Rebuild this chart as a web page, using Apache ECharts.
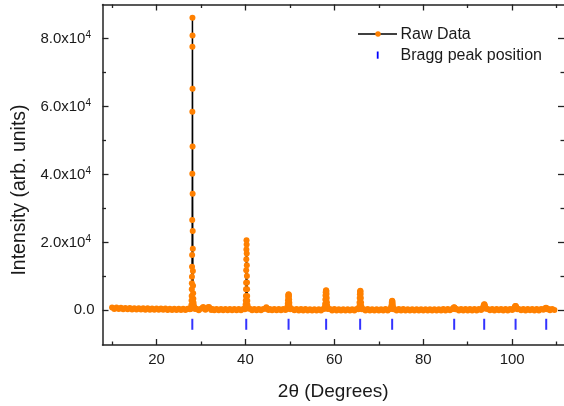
<!DOCTYPE html>
<html><head><meta charset="utf-8">
<script src="https://cdn.jsdelivr.net/npm/echarts@6/dist/echarts.min.js"></script>
<style>html,body{margin:0;padding:0;background:#fff}#c{width:564px;height:406px}</style>
</head><body><div id="c"></div>
<script>
// ---- data (2θ in degrees, intensity in counts) ----
const base1 = [[10.0,850],[10.5,420],[11.0,800],[11.5,380],[12.0,760],[12.5,340],[13.0,720],[13.5,300],[14.0,690],[14.5,270],[15.0,650],[15.5,250],[16.0,620],[16.5,230],[17.0,600],[17.5,200],[18.0,580],[18.5,190],[19.0,560],[19.5,160],[20.0,540],[20.5,150],[21.0,530],[21.5,140],[22.0,510],[22.5,130],[23.0,500],[23.5,120],[24.0,490],[24.5,110],[25.0,480],[25.5,120],[26.0,490],[26.5,130],[27.0,500],[27.5,300]];
const peak28 = [[27.66,420],[27.72,600],[27.78,900],[27.84,1600],[27.88,2900],[27.91,4200],[27.93,6200],[27.95,8000],[27.97,9900],[27.99,12850],[28.01,16270],[28.03,26560],[28.05,40200],[28.06,58440],[28.07,77560],[28.08,86090],[28.09,80880],[28.10,65210],[28.11,48240],[28.12,34320],[28.14,23320],[28.16,18150],[28.18,11560],[28.21,7200],[28.24,5000],[28.28,3400],[28.33,2200],[28.39,1400],[28.46,900],[28.56,600],[28.68,400]];
const base2 = [[29.0,480],[29.5,60],[30.0,450],[30.3,700],[30.5,1000],[30.7,600],[31.0,200],[31.3,550],[31.6,900],[31.8,1000],[32.0,650],[32.3,120],[32.6,420],[33.0,40],[33.5,430],[34.0,30],[34.5,420],[35.0,20],[35.5,410],[36.0,40],[36.5,420],[37.0,30],[37.5,410],[38.0,40],[38.5,430],[39.0,60],[39.5,420]];
const peak40 = [[39.86,350],[39.94,600],[40.00,1000],[40.05,1800],[40.08,2900],[40.11,4200],[40.13,6200],[40.15,8100],[40.17,11800],[40.19,15000],[40.21,17900],[40.24,20600],[40.27,19400],[40.29,16700],[40.31,13300],[40.33,10100],[40.35,8200],[40.37,6200],[40.39,4200],[40.42,2800],[40.46,1600],[40.52,900],[40.60,550]];
const base3 = [[41.0,450],[41.5,40],[42.0,430],[42.5,30],[43.0,420],[43.5,20],[44.0,400],[44.5,500],[44.7,900],[44.9,450],[45.2,80],[45.5,400],[46.0,10],[46.5,390],[47.0,0],[47.5,380],[48.0,-10],[48.5,380],[49.0,100]];
const peak50 = [[49.30,400],[49.42,700],[49.48,1200],[49.53,2000],[49.57,3000],[49.61,3900],[49.65,4500],[49.70,4700],[49.75,4600],[49.79,4100],[49.83,3200],[49.87,2200],[49.91,1300],[49.96,700],[50.08,300]];
const base4 = [[50.5,400],[51.0,0],[51.5,380],[52.0,-20],[52.5,370],[53.0,-30],[53.5,360],[54.0,-40],[54.5,350],[55.0,-40],[55.5,350],[56.0,-50],[56.5,340],[57.0,-30],[57.5,380]];
const peak58 = [[57.78,500],[57.86,1000],[57.92,1900],[57.97,3200],[58.01,4400],[58.05,5300],[58.10,5800],[58.15,5900],[58.20,5600],[58.24,4800],[58.28,3600],[58.32,2400],[58.37,1400],[58.43,800],[58.52,400]];
const base5 = [[59.0,380],[59.5,-30],[60.0,360],[60.5,-40],[61.0,350],[61.5,-50],[62.0,340],[62.5,-40],[63.0,350],[63.5,-50],[64.0,340],[64.5,-30],[65.0,380],[65.4,300]];
const peak66 = [[65.56,600],[65.62,1200],[65.66,2300],[65.70,3600],[65.74,4700],[65.78,5500],[65.83,5800],[65.88,5600],[65.92,4800],[65.96,3600],[66.00,2300],[66.05,1300],[66.11,700],[66.20,350]];
const base6 = [[66.5,380],[67.0,-30],[67.5,360],[68.0,-40],[68.5,350],[69.0,-50],[69.5,340],[70.0,-50],[70.5,350],[71.0,-40],[71.5,360],[72.0,-30],[72.5,380]];
const peak73 = [[72.72,500],[72.80,900],[72.86,1500],[72.91,2200],[72.96,2700],[73.01,2800],[73.06,2600],[73.11,2000],[73.16,1300],[73.22,700],[73.32,350]];
const base7 = [[73.5,380],[74.0,-20],[74.5,370],[75.0,-30],[75.5,360],[76.0,-40],[76.5,350],[77.0,-50],[77.5,340],[78.0,-60],[78.5,340],[79.0,-60],[79.5,340],[80.0,-60],[80.5,350],[81.0,-50],[81.5,350],[82.0,-50],[82.5,340],[83.0,-50],[83.5,350],[84.0,-40],[84.5,360],[85.0,-30],[85.5,370],[86.0,0],[86.5,380]];
const peak87 = [[86.70,500],[86.82,750],[86.92,900],[87.02,800],[87.12,550],[87.24,300]];
const base8 = [[87.5,380],[88.0,-20],[88.5,380],[89.0,-30],[89.5,370],[90.0,-20],[90.5,380],[91.0,-20],[91.5,370],[92.0,-30],[92.5,380],[93.0,100],[93.3,450]];
const peak94 = [[93.45,800],[93.55,1300],[93.65,1700],[93.75,1800],[93.85,1400],[93.95,900],[94.10,450]];
const base9 = [[94.5,380],[95.0,-10],[95.5,380],[96.0,-20],[96.5,370],[97.0,-10],[97.5,380],[98.0,-20],[98.5,380],[99.0,-20],[99.5,390],[100.0,100],[100.3,450]];
const peak101 = [[100.50,700],[100.60,1050],[100.70,1300],[100.80,1250],[100.90,950],[101.00,600],[101.15,350]];
const base10 = [[101.5,380],[102.0,-10],[102.5,380],[103.0,-20],[103.5,380],[104.0,-10],[104.5,370],[105.0,-20],[105.5,380],[106.0,-20],[106.5,380],[107.0,150],[107.3,500]];
const peak108 = [[107.45,650],[107.60,780],[107.75,620],[107.90,350]];
const base11 = [[108.2,380],[108.5,20],[109.0,400],[109.5,100]];

const braggPositions = [28.05, 40.18, 49.70, 58.15, 65.80, 73.00, 86.95, 93.70, 100.76, 107.65];
const braggLevel = -4100;

const xMajorTicks = [20, 40, 60, 80, 100];
const xMinorTicks = [10, 30, 50, 70, 90, 110];
const yMajorTicks = [0, 20000, 40000, 60000, 80000];
const yMinorTicks = [10000, 30000, 50000, 70000];

const seriesNames = ['Raw Data', 'Bragg peak position'];
const xTitle = '2θ (Degrees)';
const yTitle = 'Intensity (arb. units)';

// ---- build ----
const rawData = [].concat(base1, peak28, base2, peak40, base3, peak50, base4, peak58, base5, peak66,
  base6, peak73, base7, peak87, base8, peak94, base9, peak101, base10, peak108, base11)
  .sort((a, b) => a[0] - b[0]);
const braggData = braggPositions.map(p => [p, braggLevel]);

const FONT = "'Liberation Sans', Arial, sans-serif";
const TXT = '#1a1a1a';
const AXC = '#222';
const X_MIN = 7.85, X_MAX = 111.65, Y_MIN = -10200, Y_MAX = 90000;

function xAx(pos, ticks, len, showLine, showLabel) {
  return {
    type: 'value', position: pos, min: X_MIN, max: X_MAX,
    axisLine: { show: showLine, onZero: false, lineStyle: { color: AXC, width: 1.5 } },
    axisTick: { show: true, inside: true, length: len, customValues: ticks, lineStyle: { color: AXC, width: 1.3 } },
    axisLabel: showLabel ? { show: true, customValues: ticks, fontSize: 15, fontFamily: FONT, color: TXT, margin: 7.5 } : { show: false },
    splitLine: { show: false }
  };
}
function yAx(pos, ticks, len, showLine, showLabel) {
  return {
    type: 'value', position: pos, min: Y_MIN, max: Y_MAX,
    axisLine: { show: showLine, onZero: false, lineStyle: { color: AXC, width: 1.5 } },
    axisTick: { show: true, inside: true, length: len, customValues: ticks, lineStyle: { color: AXC, width: 1.3 } },
    axisLabel: showLabel ? {
      show: true, customValues: ticks, margin: 8,
      formatter: v => v === 0 ? '{a|0.0}' : '{a|' + (v / 1e4).toFixed(1) + 'x10}{s|4}',
      rich: {
        a: { fontSize: 15, fontFamily: FONT, color: TXT, lineHeight: 17 },
        s: { fontSize: 10, fontFamily: FONT, color: TXT, verticalAlign: 'top', lineHeight: 12, padding: [0, 3.5, 0, 0] }
      }
    } : { show: false },
    splitLine: { show: false }
  };
}

const xA0 = xAx('bottom', xMajorTicks, 6, true, true);
xA0.name = xTitle; xA0.nameLocation = 'middle'; xA0.nameGap = 37;
xA0.nameTextStyle = { fontSize: 19, fontFamily: FONT, color: TXT };

const option = {
  animation: false,
  backgroundColor: '#fff',
  grid: { left: 102.5, right: 0, top: 4.5, bottom: 60.3, containLabel: false },
  xAxis: [
    xA0,
    xAx('bottom', xMinorTicks, 3.5, false, false),
    xAx('top', xMajorTicks, 6, true, false),
    xAx('top', xMinorTicks, 3.5, false, false)
  ],
  yAxis: [
    yAx('left', yMajorTicks, 6, true, true),
    yAx('left', yMinorTicks, 3.5, false, false),
    yAx('right', yMajorTicks, 6, false, false),
    yAx('right', yMinorTicks, 3.5, false, false)
  ],
  series: [
    {
      name: seriesNames[0], type: 'line', data: rawData,
      xAxisIndex: 0, yAxisIndex: 0,
      symbol: 'circle', symbolSize: 6, showSymbol: true, showAllSymbol: true,
      itemStyle: { color: '#ff8000' },
      lineStyle: { color: '#000', width: 1.5 },
      z: 3
    },
    {
      name: seriesNames[1], type: 'scatter', data: braggData,
      xAxisIndex: 0, yAxisIndex: 0,
      symbol: 'rect', symbolSize: [2, 11],
      itemStyle: { color: '#0000ff' },
      z: 2
    }
  ],
  graphic: [
    { type: 'text', x: 20, y: 190, rotation: Math.PI / 2,
      style: { text: yTitle, fontSize: 19.5, fontFamily: FONT, fill: TXT, align: 'center', verticalAlign: 'middle' } },
    { type: 'line', shape: { x1: 358, y1: 34, x2: 397, y2: 34 }, style: { stroke: '#000', lineWidth: 1.4 } },
    { type: 'circle', shape: { cx: 378, cy: 34, r: 2.75 }, style: { fill: '#ff8000' } },
    { type: 'text', x: 400.5, y: 34.5, style: { text: seriesNames[0], fontSize: 16, fontFamily: FONT, fill: TXT, verticalAlign: 'middle' } },
    { type: 'rect', shape: { x: 376.8, y: 51.5, width: 1.8, height: 7.2 }, style: { fill: '#0000ff' } },
    { type: 'text', x: 400.5, y: 55.5, style: { text: seriesNames[1], fontSize: 16, fontFamily: FONT, fill: TXT, verticalAlign: 'middle' } }
  ]
};

const chart = echarts.init(document.getElementById('c'), null, { renderer: 'canvas' });
chart.setOption(option);
</script></body></html>
